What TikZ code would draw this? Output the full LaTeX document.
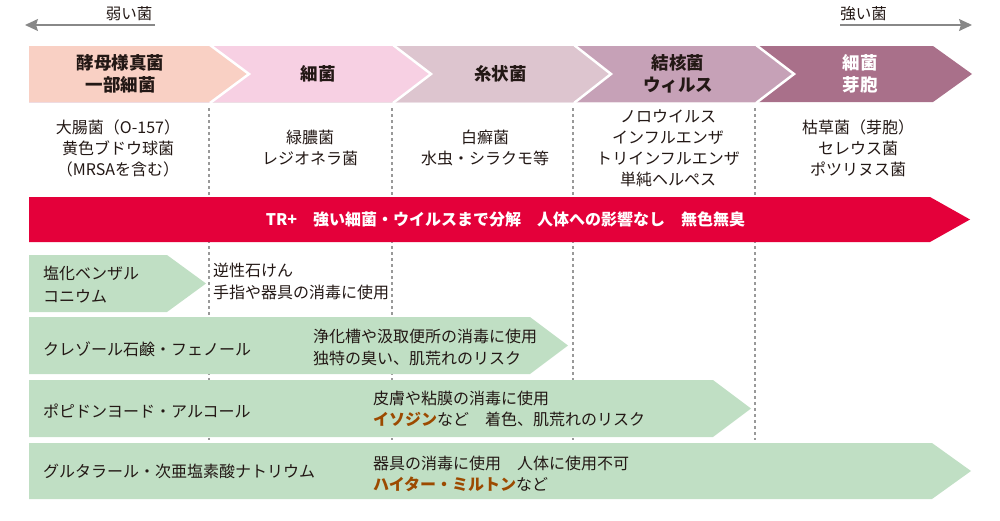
\documentclass[tikz,border=0pt]{standalone}
\usepackage{fontspec}
\setmainfont{Noto Sans CJK JP}
\usetikzlibrary{arrows.meta}
\definecolor{ink}{HTML}{231815}
\definecolor{cA}{HTML}{F9D0C4}
\definecolor{cB}{HTML}{F7D0E3}
\definecolor{cC}{HTML}{DDC5CF}
\definecolor{cD}{HTML}{C6A1B7}
\definecolor{cE}{HTML}{A9708A}
\definecolor{redbar}{HTML}{E4003A}
\definecolor{grn}{HTML}{C0DFC4}
\definecolor{brn}{HTML}{9C4A00}
\definecolor{dashgray}{HTML}{999999}
\definecolor{arrgray}{HTML}{888888}
\tikzset{
  txt/.style={font=\fontsize{16pt}{21pt}\selectfont, text=ink, inner sep=0pt},
  coltxt/.style={txt, align=center},
  hd/.style={font=\fontsize{17.5pt}{22pt}\selectfont\bfseries, text=ink, align=center, inner sep=0pt},
  dashline/.style={draw=dashgray, line width=1.4pt, dash pattern=on 3pt off 3pt},
  arr/.style={draw=arrgray, line width=1.5pt, -{Stealth[length=13pt,width=12pt,inset=2pt]}},
  sep/.style={draw=white, line width=2.5pt},
}
\newcommand{\brnb}[1]{{\bfseries\color{brn}#1}}
\begin{document}
\begin{tikzpicture}[x=1pt,y=-1pt]
\useasboundingbox (0,0) rectangle (1000,520);
% top arrows
\node[txt, font=\fontsize{15.5pt}{18pt}\selectfont] (weak) at (129,14) {弱い菌};
\node[txt, font=\fontsize{15.5pt}{18pt}\selectfont] (strong) at (863.5,14) {強い菌};
\coordinate (wS) at (155,25); \coordinate (wE) at (25,25);
\coordinate (sS) at (840,25); \coordinate (sE) at (972,25);
\draw[arr] (wS) -- (wE);
\draw[arr] (sS) -- (sE);
% dashed guides
\foreach \x in {209,392,573,755} \draw[dashline] (\x,108) -- (\x,440);
% header chevrons
\fill[cE] (29,46) -- (933,46) -- (972,74) -- (933,102) -- (29,102) -- cycle;
\fill[cD] (29,46) -- (755,46) -- (793,74) -- (755,102) -- (29,102) -- cycle;
\fill[cC] (29,46) -- (573,46) -- (610,74) -- (573,102) -- (29,102) -- cycle;
\fill[cB] (29,46) -- (392,46) -- (430,74) -- (392,102) -- (29,102) -- cycle;
\fill[cA] (29,46) -- (209,46) -- (248,74) -- (209,102) -- (29,102) -- cycle;
\draw[sep] (210,45) -- (249,74) -- (210,103);
\draw[sep] (393,45) -- (431,74) -- (393,103);
\draw[sep] (574,45) -- (611,74) -- (574,103);
\draw[sep] (756,45) -- (794,74) -- (756,103);
\node[hd] (h1) at (120.5,74) {酵母様真菌\\一部細菌};
\node[hd] (h2) at (318,74) {細菌};
\node[hd] (h3) at (500.5,74) {糸状菌};
\node[hd] (h4) at (678,74) {結核菌\\ウィルス};
\node[hd, text=white] (h5) at (860,74) {細菌\\芽胞};
% column texts
\node[coltxt] (c1) at (118,148.5) {大腸菌（O-157）\\黄色ブドウ球菌\\（MRSAを含む）};
\node[coltxt] (c2) at (310,147.5) {緑膿菌\\レジオネラ菌};
\node[coltxt] (c3) at (485,147.5) {白癬菌\\水虫・シラクモ等};
\node[coltxt] (c4) at (668,148.5) {ノロウイルス\\インフルエンザ\\トリインフルエンザ\\単純ヘルペス};
\node[coltxt] (c5) at (858,148) {枯草菌（芽胞）\\セレウス菌\\ポツリヌス菌};
% red bar
\fill[redbar] (29,197) -- (930,197) -- (970,219.5) -- (930,242) -- (29,242) -- cycle;
\node[txt, font=\fontsize{16pt}{18pt}\selectfont\bfseries, text=white] (tr) at (505.5,219.5) {TR+　強い細菌・ウイルスまで分解　人体への影響なし　無色無臭};
% green rows
\fill[grn] (29,255) -- (167,255) -- (206,283.5) -- (167,312) -- (29,312) -- cycle;
\fill[grn] (29,317) -- (530,317) -- (568,345.5) -- (530,374) -- (29,374) -- cycle;
\fill[grn] (29,380) -- (713,380) -- (751,408.5) -- (713,437) -- (29,437) -- cycle;
\fill[grn] (29,443) -- (932,443) -- (971,471) -- (932,499) -- (29,499) -- cycle;
\node[txt, anchor=west, align=left, font=\fontsize{16pt}{23pt}\selectfont] (r1a) at (43,284.5) {塩化ベンザル\\コニウム};
\node[txt, anchor=west, align=left, font=\fontsize{16pt}{22pt}\selectfont] (r1b) at (213,281) {逆性石けん\\手指や器具の消毒に使用};
\node[txt, anchor=west] (r2a) at (43,349) {クレゾール石鹸・フェノール};
\node[txt, anchor=west, align=left, font=\fontsize{16pt}{22pt}\selectfont] (r2b) at (313,347) {浄化槽や汲取便所の消毒に使用\\独特の臭い、肌荒れのリスク};
\node[txt, anchor=west] (r3a) at (43,411) {ポピドンヨード・アルコール};
\node[txt, anchor=west, align=left] (r3b) at (373,408.5) {皮膚や粘膜の消毒に使用\\\brnb{イソジン}など　着色、肌荒れのリスク};
\node[txt, anchor=west] (r4a) at (43,471) {グルタラール・次亜塩素酸ナトリウム};
\node[txt, anchor=west, align=left] (r4b) at (373,473.5) {器具の消毒に使用　人体に使用不可\\\brnb{ハイター・ミルトン}など};
\end{tikzpicture}
\end{document}
